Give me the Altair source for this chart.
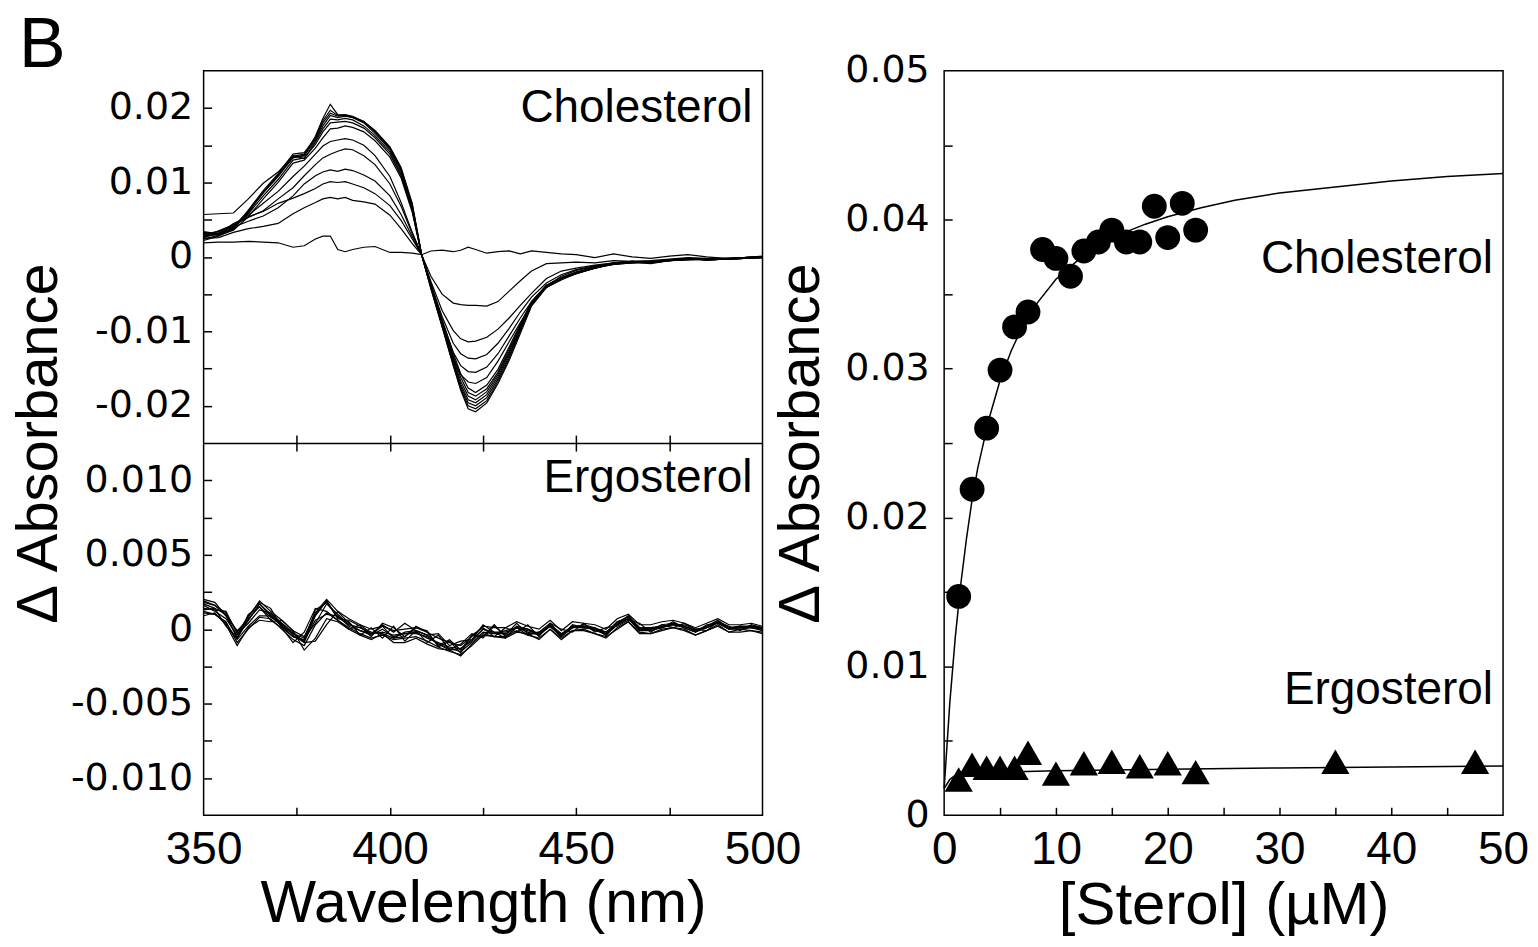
import altair as alt
import pandas as pd

# ---------------- data ----------------
WL_CHOL = [350, 354, 358, 362, 366, 370, 374, 377, 380, 382,
           384, 386, 388, 390, 393, 396, 400, 403, 406, 408.5,
           411, 414, 417, 419, 421, 423, 426, 429, 432, 435,
           438, 442, 446, 450, 455, 460, 465, 470, 475, 480,
           485, 490, 495, 500]

# difference spectra, cholesterol titration (units of 1e-3 absorbance)
CHOL_00 = [1.9, 2.0, 2.0, 2.1, 2.0, 1.9, 1.3, 1.5, 2.4, 2.8,
           2.8, 1.0, 0.7, 1.0, 1.3, 1.4, 0.6, 0.6, 0.5, 0.3,
           0.8, 0.9, 0.7, 0.9, 1.3, 1.0, 0.5, 0.7, 0.8, 0.4,
           0.8, 0.6, 0.4, 0.3, -0.1, 0.4, 0.0, -0.2, 0.1, 0.3,
           0.0, -0.2, -0.1, 0.1]
CHOL_01 = [2.5, 2.6, 3.3, 3.8, 4.1, 4.5, 5.8, 6.6, 7.3, 7.8,
           8.0, 7.8, 8.0, 7.6, 7.4, 7.1, 5.6, 3.8, 1.8, 0.3,
           -2.6, -5.0, -6.2, -6.4, -6.5, -6.5, -6.6, -6.0, -4.6, -3.2,
           -1.9, -0.9, -0.8, -0.7, -0.8, -0.5, -0.6, -0.5, -0.3, -0.1,
           -0.2, -0.2, -0.1, 0.0]
CHOL_02 = [2.8, 3.0, 4.5, 5.4, 6.1, 7.2, 7.9, 8.5, 9.2, 9.8,
           10.1, 10.0, 10.1, 9.8, 9.3, 8.5, 6.9, 4.9, 2.4, 0.3,
           -3.3, -7.2, -9.9, -11.0, -11.4, -11.3, -10.8, -9.7, -8.2, -6.5,
           -4.9, -2.9, -1.9, -1.5, -1.1, -0.8, -0.6, -0.6, -0.4, -0.2,
           -0.3, -0.3, -0.2, -0.1]
CHOL_03 = [2.6, 3.2, 4.0, 4.8, 5.5, 6.6, 8.2, 9.8, 10.9, 11.4,
           11.7, 11.5, 11.8, 11.6, 11.0, 10.2, 8.2, 5.7, 2.7, 0.3,
           -3.7, -8.0, -11.6, -13.0, -13.6, -13.7, -13.1, -11.6, -9.6, -7.4,
           -5.4, -3.5, -2.4, -1.7, -1.2, -0.9, -0.7, -0.6, -0.5, -0.3,
           -0.3, -0.3, -0.2, -0.1]
CHOL_04 = [3.0, 3.4, 4.3, 5.3, 6.2, 7.8, 9.3, 10.9, 12.4, 13.3,
           13.8, 14.2, 14.5, 14.4, 13.6, 12.4, 9.8, 6.8, 3.1, 0.3,
           -3.9, -8.6, -12.8, -14.6, -15.4, -15.5, -14.8, -13.0, -10.6, -8.2,
           -6.0, -3.9, -2.6, -1.8, -1.3, -1.0, -0.8, -0.6, -0.5, -0.4,
           -0.3, -0.3, -0.2, -0.1]
CHOL_05 = [2.7, 3.5, 4.3, 5.6, 7.2, 8.8, 10.8, 12.2, 13.8, 14.9,
           15.5, 15.7, 15.9, 15.7, 15.0, 13.6, 10.8, 7.3, 3.3, 0.3,
           -4.0, -9.0, -13.6, -15.8, -16.8, -17.0, -16.2, -14.0, -11.4, -8.8,
           -6.4, -4.1, -2.8, -2.0, -1.4, -1.0, -0.8, -0.7, -0.5, -0.4,
           -0.3, -0.3, -0.2, -0.1]
CHOL_06 = [2.4, 2.9, 3.6, 5.4, 7.8, 10.0, 12.6, 13.0, 14.6, 16.0,
           17.2, 17.3, 17.6, 17.4, 16.8, 15.6, 13.4, 10.6, 6.0, 0.3,
           -3.6, -8.4, -12.9, -15.7, -17.6, -18.2, -17.2, -15.1, -12.1, -9.0,
           -6.0, -3.8, -2.8, -2.1, -1.4, -0.8, -0.7, -0.8, -0.5, -0.3,
           -0.4, -0.3, -0.2, 0.0]
CHOL_07 = [2.9, 3.2, 3.9, 5.8, 8.2, 10.4, 13.0, 13.3, 15.1, 16.8,
           18.0, 18.1, 18.2, 18.0, 17.3, 16.0, 13.8, 10.9, 6.2, 0.3,
           -3.8, -8.7, -13.3, -16.2, -18.2, -18.7, -17.7, -15.5, -12.4, -9.2,
           -6.1, -3.8, -2.8, -2.1, -1.5, -0.9, -0.8, -0.7, -0.4, -0.2,
           -0.4, -0.3, -0.1, 0.0]
CHOL_08 = [5.7, 5.8, 5.9, 7.8, 9.9, 11.4, 13.6, 13.2, 15.4, 17.2,
           18.5, 18.4, 18.6, 18.4, 17.6, 16.3, 14.1, 11.2, 6.4, 0.3,
           -3.9, -8.9, -13.7, -16.7, -18.7, -19.2, -18.1, -15.8, -12.7, -9.4,
           -6.2, -3.9, -2.9, -2.1, -1.4, -0.8, -0.6, -0.8, -0.4, -0.3,
           -0.3, -0.2, -0.1, 0.0]
CHOL_09 = [3.1, 3.4, 4.1, 6.1, 8.6, 10.8, 13.4, 13.6, 15.6, 17.6,
           19.0, 18.7, 18.9, 18.7, 18.0, 16.6, 14.4, 11.5, 6.6, 0.3,
           -4.0, -9.1, -14.0, -17.1, -19.2, -19.6, -18.5, -16.1, -13.0, -9.6,
           -6.3, -4.0, -2.9, -2.2, -1.5, -1.0, -0.7, -0.8, -0.5, -0.3,
           -0.4, -0.3, -0.1, 0.0]
CHOL_10 = [2.2, 2.8, 3.7, 6.0, 8.7, 11.0, 13.5, 13.8, 15.8, 18.0,
           19.3, 18.9, 19.0, 18.8, 18.1, 16.8, 14.6, 11.7, 6.8, 0.3,
           -4.1, -9.2, -14.3, -17.4, -19.6, -20.0, -18.9, -16.4, -13.3, -9.8,
           -6.4, -4.0, -3.0, -2.3, -1.5, -0.9, -0.7, -0.9, -0.5, -0.2,
           -0.4, -0.3, -0.2, 0.0]
CHOL_11 = [3.4, 3.1, 3.8, 6.3, 8.9, 11.2, 13.8, 14.0, 16.0, 18.3,
           19.7, 19.0, 19.1, 18.9, 18.2, 16.9, 14.7, 11.8, 7.0, 0.3,
           -4.2, -9.3, -14.5, -17.7, -20.0, -20.4, -19.3, -16.7, -13.6, -10.0,
           -6.5, -4.1, -3.0, -2.2, -1.5, -0.9, -0.6, -0.8, -0.4, -0.2,
           -0.4, -0.3, -0.1, 0.0]
CHOL_12 = [3.3, 3.0, 3.8, 6.2, 8.6, 11.0, 13.3, 13.6, 16.2, 18.6,
           20.5, 19.1, 19.0, 18.8, 18.2, 17.0, 14.8, 12.0, 7.2, 0.3,
           -4.3, -9.4, -14.6, -17.9, -20.4, -20.8, -19.6, -17.0, -13.9, -10.3,
           -6.6, -4.1, -3.1, -2.2, -1.4, -0.8, -0.6, -0.8, -0.4, -0.2,
           -0.4, -0.3, -0.1, 0.0]

WL_ERGO = [350, 353, 356, 359, 362, 365, 368, 371, 374, 377,
           380, 383, 386, 389, 392, 395, 398, 401, 404, 407,
           410, 413, 416, 419, 422, 425, 428, 431, 434, 437,
           440, 443, 446, 449, 452, 455, 458, 461, 464, 467,
           470, 473, 476, 479, 482, 485, 488, 491, 494, 497,
           500]

# difference spectra, ergosterol titration (units of 1e-3 absorbance)
ERGO_01 = [1.9, 1.6, 1.1, -0.2, 0.8, 1.9, 1.2, 0.6, -0.1, -0.5,
           1.1, 2.0, 1.2, 0.7, 0.3, 0.0, 0.2, -0.1, 0.0, 0.1,
           -0.2, -0.6, -0.9, -1.1, -0.5, 0.2, 0.1, 0.1, 0.5, 0.2,
           0.0, 0.6, -0.1, 0.5, 0.4, 0.3, 0.0, 0.7, 1.0, 0.3,
           0.3, 0.5, 0.6, 0.4, 0.1, 0.4, 0.7, 0.3, 0.3, 0.4,
           0.2]
ERGO_02 = [1.2, 1.0, 0.5, -0.9, 0.0, 0.8, 0.7, 0.0, -0.7, -1.1,
           0.3, 1.1, 0.6, 0.1, -0.3, -0.6, -0.4, -0.7, -0.6, -0.5,
           -0.8, -1.2, -1.5, -1.7, -1.1, -0.4, -0.5, -0.5, -0.1, -0.4,
           -0.6, 0.0, -0.7, -0.1, -0.1, -0.3, -0.6, 0.1, 0.5, -0.3,
           -0.3, -0.1, 0.1, -0.1, -0.4, -0.1, 0.2, -0.2, -0.2, -0.1,
           -0.3]
ERGO_03 = [1.7, 1.4, 0.2, -0.6, 1.0, 1.5, 0.6, 0.1, -0.9, -0.2,
           1.4, 1.2, 0.6, 0.0, 0.3, -0.3, 0.2, -0.6, -0.5, 0.1,
           -0.1, -1.2, -0.8, -1.6, -0.4, 0.1, -0.5, 0.1, -0.2, 0.3,
           -0.5, 0.4, 0.0, -0.2, 0.4, -0.2, 0.1, 0.2, 0.6, 0.4,
           -0.2, 0.3, 0.1, 0.4, 0.0, -0.1, 0.5, 0.2, -0.1, 0.3,
           0.1]
ERGO_04 = [1.3, 1.4, 1.0, -0.6, 0.7, 1.5, 0.8, 0.4, -0.2, -0.9,
           0.9, 1.9, 0.7, 0.6, 0.2, -0.5, 0.4, 0.1, -0.5, 0.2,
           -0.2, -1.1, -0.7, -1.4, -0.4, -0.5, 0.3, -0.5, 0.1, -0.4,
           -0.2, 0.2, -0.5, 0.3, 0.1, 0.1, -0.4, 0.5, 0.7, -0.1,
           0.1, 0.1, 0.5, 0.1, -0.2, 0.3, 0.4, 0.0, 0.2, 0.1,
           0.0]
ERGO_05 = [2.0, 1.8, 0.9, -0.1, 0.6, 1.7, 0.9, 0.2, -0.3, -0.6,
           0.4, 1.7, 1.0, 0.3, 0.1, -0.2, -0.3, -0.6, -0.2, -0.1,
           -0.4, -1.0, -1.4, -1.3, -0.7, 0.0, -0.3, -0.1, 0.1, 0.0,
           -0.4, 0.3, -0.3, 0.1, 0.3, 0.1, -0.2, 0.3, 0.9, 0.1,
           0.1, 0.2, 0.3, 0.3, 0.0, 0.1, 0.5, 0.1, 0.1, 0.2,
           0.1]
ERGO_06 = [0.9, 1.1, 0.3, -1.1, 0.1, 0.6, 0.5, 0.6, -0.1, -1.4,
           -0.6, 0.7, 0.5, 0.0, -0.4, -0.7, -0.3, -0.9, -0.9, -0.6,
           -1.0, -1.3, -1.4, -1.8, -1.0, -0.3, -0.5, -0.6, -0.2, -0.3,
           -0.7, 0.0, -0.6, -0.1, 0.0, -0.3, -0.5, 0.0, 0.5, -0.2,
           -0.3, 0.0, 0.1, 0.0, -0.4, -0.1, 0.3, -0.2, 0.0, -0.1,
           -0.2]
ERGO_07 = [1.6, 1.2, 0.7, -0.4, 0.9, 1.8, 1.4, 0.1, -0.5, -0.7,
           1.0, 1.9, 0.8, 0.5, -0.4, 0.1, -0.6, 0.2, -0.8, -0.1,
           -0.9, -0.4, -1.4, -1.0, -0.3, -0.6, 0.2, -0.4, 0.4, -0.3,
           -0.2, 0.4, -0.4, 0.2, 0.1, 0.0, -0.2, 0.5, 0.8, 0.1,
           0.0, 0.3, 0.4, 0.2, -0.1, 0.2, 0.6, 0.1, 0.2, 0.2,
           0.0]
ERGO_08 = [1.4, 1.3, 1.2, -0.3, 0.4, 1.3, 1.1, 0.4, -0.4, -0.9,
           -0.8, 0.3, 1.2, 0.4, -0.1, -0.4, 0.0, -0.5, -0.3, -0.2,
           -0.6, -0.9, -1.2, -1.3, -0.8, 0.0, -0.2, -0.2, 0.1, -0.1,
           -0.3, 0.2, -0.4, 0.1, 0.2, -0.1, -0.3, 0.3, 0.7, 0.0,
           0.0, 0.1, 0.4, 0.2, -0.1, 0.1, 0.5, 0.0, 0.1, 0.1,
           0.0]
ERGO_09 = [1.8, 1.6, 0.9, -0.6, 0.6, 1.7, 1.0, 0.3, -0.3, -0.8,
           1.3, 1.8, 0.8, 0.3, 0.1, -0.3, 0.3, -0.2, 0.4, -0.1,
           -0.4, -0.3, -1.1, -0.8, -0.7, 0.3, -0.2, -0.6, 0.2, 0.0,
           -0.3, 0.3, -0.3, 0.2, 0.2, 0.0, -0.3, 0.4, 0.9, 0.0,
           0.0, 0.2, 0.3, 0.2, -0.1, 0.2, 0.5, 0.1, 0.1, 0.2,
           0.0]
ERGO_10 = [1.1, 1.0, 0.4, -0.7, 0.2, 0.9, 0.9, 0.2, -0.5, -0.8,
           0.6, 1.0, 0.9, 0.2, -0.1, -0.3, -0.2, -0.4, -0.3, -0.3,
           -0.5, -1.0, -1.3, -1.5, -0.9, -0.2, -0.3, -0.3, 0.1, -0.2,
           -0.4, 0.2, -0.5, 0.1, 0.1, 0.0, -0.4, 0.3, 0.7, -0.1,
           -0.1, 0.1, 0.3, 0.1, -0.2, 0.1, 0.4, 0.0, 0.0, 0.1,
           -0.1]

# binding titration (right panel)
CHOL_CONC = [1.3, 2.5, 3.8, 5.0, 6.3, 7.5, 8.8, 10.0, 11.3, 12.5,
             13.8, 15.0, 16.3, 17.5, 18.8, 20.0, 21.3, 22.5]
CHOL_DA = [0.0147, 0.0219, 0.0260, 0.0299, 0.0328, 0.0338, 0.0380, 0.0374, 0.0362, 0.0379,
           0.0385, 0.0393, 0.0385, 0.0385, 0.0409, 0.0388, 0.0411, 0.0393]
ERGO_CONC = [1.3, 2.5, 3.8, 5.0, 6.3, 7.5, 10.0, 12.5, 15.0, 17.5, 20.0, 22.5, 35.0, 47.5]
ERGO_DA = [0.0024, 0.0034, 0.0032, 0.0032, 0.0032, 0.0042, 0.0028, 0.0035, 0.0036, 0.0033,
           0.0035, 0.0029, 0.0036, 0.0036]

CHOL_FIT_X = [0, 0.5, 1, 1.5, 2, 2.5, 3, 4, 5, 6, 7, 8, 10, 12, 14, 16, 18, 20,
              23, 26, 30, 35, 40, 45, 50]
CHOL_FIT_Y = [0.0018, 0.0075, 0.0120, 0.0156, 0.0186, 0.0212, 0.0233, 0.0266, 0.0292,
              0.0312, 0.0328, 0.0341, 0.0360, 0.0373, 0.0383, 0.0391, 0.0397, 0.0402,
              0.0408, 0.0413, 0.0418, 0.0422, 0.0426, 0.0429, 0.0431]
ERGO_FIT_X = [0, 0.5, 1, 2, 3, 5, 10, 20, 30, 40, 50]
ERGO_FIT_Y = [0.0018, 0.0024, 0.0027, 0.0028, 0.0029, 0.0029, 0.0030, 0.0031, 0.00318,
              0.00325, 0.00332]

# ---------------- tables ----------------
chol_sets = [CHOL_00, CHOL_01, CHOL_02, CHOL_03, CHOL_04, CHOL_05, CHOL_06,
             CHOL_07, CHOL_08, CHOL_09, CHOL_10, CHOL_11, CHOL_12]
ergo_sets = [ERGO_01, ERGO_02, ERGO_03, ERGO_04, ERGO_05, ERGO_06, ERGO_07,
             ERGO_08, ERGO_09, ERGO_10]

rows = []
for i, vals in enumerate(chol_sets):
    assert len(vals) == len(WL_CHOL), ("chol", i, len(vals))
    for w, v in zip(WL_CHOL, vals):
        rows.append({"curve": f"c{i:02d}", "wl": w, "val": v / 1000.0})
df_chol = pd.DataFrame(rows)

rows = []
for i, vals in enumerate(ergo_sets):
    assert len(vals) == len(WL_ERGO), ("ergo", i, len(vals))
    for w, v in zip(WL_ERGO, vals):
        rows.append({"curve": f"e{i:02d}", "wl": w, "val": v / 1000.0})
df_ergo = pd.DataFrame(rows)

df_pts_c = pd.DataFrame({"x": CHOL_CONC, "y": CHOL_DA})
df_pts_e = pd.DataFrame({"x": ERGO_CONC, "y": ERGO_DA})
df_fit = pd.concat([
    pd.DataFrame({"x": CHOL_FIT_X, "y": CHOL_FIT_Y, "s": "chol"}),
    pd.DataFrame({"x": ERGO_FIT_X, "y": ERGO_FIT_Y, "s": "ergo"}),
])

# ---------------- styling helpers ----------------
FONT = "Liberation Sans"
YFONT = "DejaVu Sans"
W = 560
HP = 373          # height of one spectra panel
HL = 2 * HP       # height of the left column
HR = 746


def lab_expr(dec):
    return ("datum.value == 0 ? '0' : (datum.value < 0 ? '-' : '') + "
            f"format(abs(datum.value), '.{dec}f')")


def y_label_axis(values, dec, pad, **kw):
    return alt.Axis(orient="left", values=values, ticks=False, tickSize=0, domain=False,
                    grid=False, labelExpr=lab_expr(dec), labelFont=YFONT, labelFontSize=38,
                    labelColor="black", labelPadding=pad, labelOverlap=False,
                    labelFlush=False, **kw)


def x_label_axis(values, title, title_size, title_pad):
    return alt.Axis(orient="bottom", values=values, ticks=False, tickSize=0, domain=False,
                    grid=False, format="d", labelFont=FONT, labelFontSize=46,
                    labelColor="black", labelPadding=12, labelOverlap=False,
                    labelFlush=False, title=title, titleFont=FONT,
                    titleFontSize=title_size, titleFontWeight="normal",
                    titleColor="black", titlePadding=title_pad)


def tick_axis(orient, offset, values, domain=False):
    return alt.Axis(orient=orient, offset=offset, values=values, labels=False,
                    domain=domain, domainColor="black", domainWidth=1.5,
                    grid=False, ticks=True, tickSize=8, tickWidth=1.5,
                    tickColor="black", title=None)


def label(text, x, y, size=46):
    return alt.Chart(pd.DataFrame({"t": [text]})).mark_text(
        align="right", baseline="alphabetic", font=FONT, fontSize=size, color="black"
    ).encode(x=alt.value(x), y=alt.value(y), text="t:N")


X_WL_TICKS = [375, 400, 425, 450, 475]
xs_wl = alt.Scale(domain=[350, 500], nice=False, zero=False)
# the two spectra panels share one column: each y scale maps onto its own half
ys_top = alt.Scale(domain=[-0.025, 0.025], range=[HP, 0], nice=False, zero=False)
ys_bot = alt.Scale(domain=[-0.0125, 0.0125], range=[HL, HP], nice=False, zero=False)

# ---------------- left column: spectra ----------------
top_lines = alt.Chart(df_chol).mark_line(color="black", strokeWidth=1.2).encode(
    x=alt.X("wl:Q", scale=xs_wl, axis=None),
    y=alt.Y("val:Q", scale=ys_top,
            axis=y_label_axis([-0.02, -0.01, 0, 0.01, 0.02], 2, 11,
                              title="Δ Absorbance", titleFont=FONT,
                              titleFontSize=58, titleFontWeight="normal",
                              titleColor="black", titleAngle=270, titleX=-164,
                              titleY=HP, titleAlign="center", titleBaseline="middle")),
    detail="curve:N",
)
top_ticks = alt.Chart(df_chol).mark_point(opacity=0).encode(
    x=alt.X("wl:Q", scale=xs_wl, axis=tick_axis("top", -HP, X_WL_TICKS, domain=True)),
    y=alt.Y("val:Q", scale=ys_top,
            axis=tick_axis("right", -W, [-0.02, -0.015, -0.01, -0.005, 0, 0.005, 0.01, 0.015, 0.02])),
)
bot_lines = alt.Chart(df_ergo).mark_line(color="black", strokeWidth=1.2).encode(
    x=alt.X("wl:Q", scale=xs_wl,
            axis=x_label_axis([350, 400, 450, 500], "Wavelength (nm)", 59, 2)),
    y=alt.Y("val:Q", scale=ys_bot,
            axis=y_label_axis([-0.01, -0.005, 0, 0.005, 0.01], 3, 11, title=None)),
    detail="curve:N",
)
bot_ticks = alt.Chart(df_ergo).mark_point(opacity=0).encode(
    x=alt.X("wl:Q", scale=xs_wl, axis=tick_axis("top", -HL, X_WL_TICKS)),
    y=alt.Y("val:Q", scale=ys_bot,
            axis=tick_axis("right", -W, [-0.01, -0.0075, -0.005, -0.0025, 0, 0.0025, 0.005, 0.0075, 0.01])),
)
bot_ticks2 = alt.Chart(df_ergo).mark_point(opacity=0).encode(
    x=alt.X("wl:Q", scale=xs_wl, axis=tick_axis("bottom", -HP, X_WL_TICKS)),
    y=alt.Y("val:Q", scale=ys_bot, axis=None),
)
b_label = alt.Chart(pd.DataFrame({"t": ["B"]})).mark_text(
    align="left", baseline="alphabetic", font=FONT, fontSize=70, color="black"
).encode(x=alt.value(-185), y=alt.value(-4), text="t:N")

left = alt.layer(
    top_lines, top_ticks, bot_lines, bot_ticks, bot_ticks2,
    label("Cholesterol", 550, 51), label("Ergosterol", 550, HP + 49), b_label,
).resolve_scale(y="independent").resolve_axis(
    x="independent", y="independent"
).properties(width=W, height=HL)

# ---------------- right: binding curves ----------------
xs_c = alt.Scale(domain=[0, 50], nice=False, zero=False)
ys_c = alt.Scale(domain=[0, 0.05], nice=False, zero=False)

fit_lines = alt.Chart(df_fit).mark_line(color="black", strokeWidth=1.5).encode(
    x=alt.X("x:Q", scale=xs_c,
            axis=x_label_axis([0, 10, 20, 30, 40, 50], "[Sterol] (µM)", 60, 4)),
    y=alt.Y("y:Q", scale=ys_c,
            axis=y_label_axis([0, 0.01, 0.02, 0.03, 0.04, 0.05], 2, 15,
                              title="Δ Absorbance", titleFont=FONT,
                              titleFontSize=58, titleFontWeight="normal",
                              titleColor="black", titleAngle=270, titleX=-143,
                              titleY=HR / 2, titleAlign="center", titleBaseline="middle")),
    detail="s:N",
)
circles = alt.Chart(df_pts_c).mark_point(
    shape="circle", filled=True, color="black", opacity=1, size=620
).encode(
    x=alt.X("x:Q", scale=xs_c, axis=tick_axis("top", -HR, [5, 10, 15, 20, 25, 30, 35, 40, 45])),
    y=alt.Y("y:Q", scale=ys_c,
            axis=tick_axis("right", -W, [0.005, 0.01, 0.015, 0.02, 0.025, 0.03, 0.035, 0.04, 0.045])),
)
triangles = alt.Chart(df_pts_e).mark_point(
    shape="triangle-up", filled=True, color="black", opacity=1, size=800
).encode(
    x=alt.X("x:Q", scale=xs_c, axis=None),
    y=alt.Y("y:Q", scale=ys_c, axis=None),
)
right = alt.layer(
    fit_lines, circles, triangles,
    label("Cholesterol", 550, 203), label("Ergosterol", 550, 634),
).resolve_axis(x="independent", y="independent").properties(width=W, height=HR)

chart = alt.hconcat(left, right, spacing=182, bounds="flush", background="white").properties(
    padding={"left": 2, "top": 1, "right": 0, "bottom": 0}
).configure_view(stroke="black", strokeWidth=1.5)

chart.save("out.html", embed_options={"renderer": "svg", "actions": False})
